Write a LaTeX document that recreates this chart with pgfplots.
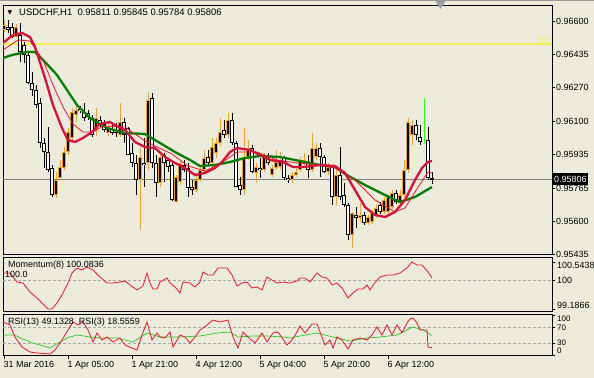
\documentclass[border=0pt]{standalone}
\usepackage{pgfplots}
\pgfplotsset{compat=1.18}
\usepackage{pgfplotstable}
\usepackage{fontspec}
\setmainfont{Liberation Sans}
\newfontfamily\dejavu{DejaVu Sans}
\definecolor{bg}{RGB}{236,235,220}
\definecolor{bullc}{RGB}{245,160,40}
\definecolor{macrim}{RGB}{210,20,60}
\definecolor{mared}{RGB}{230,25,45}
\definecolor{magreen}{RGB}{0,125,0}
\definecolor{rsigreen}{RGB}{40,200,40}
\definecolor{fibyel}{RGB}{245,240,80}
\newcommand{\tf}{\fontsize{9}{10}\selectfont}

\pgfplotstableread{
i o h l c
1 0.96570 0.96605 0.96540 0.96555
2 0.96570 0.96590 0.96515 0.96520
4 0.96530 0.96590 0.96395 0.96445
5 0.96480 0.96495 0.96390 0.96430
6 0.96430 0.96445 0.96285 0.96290
7 0.96290 0.96345 0.96225 0.96255
8 0.96255 0.96280 0.96165 0.96180
9 0.96190 0.96215 0.95965 0.95990
10 0.95990 0.96015 0.95865 0.95945
11 0.95945 0.96070 0.95845 0.95855
12 0.95865 0.95880 0.95720 0.95730
19 0.96160 0.96175 0.96140 0.96150
20 0.96145 0.96190 0.96100 0.96115
21 0.96140 0.96155 0.96105 0.96120
22 0.96115 0.96130 0.96020 0.96030
24 0.96105 0.96125 0.96065 0.96080
25 0.96085 0.96105 0.96045 0.96055
27 0.96060 0.96080 0.96030 0.96040
28 0.96045 0.96090 0.96020 0.96040
30 0.96095 0.96115 0.95990 0.96030
31 0.96065 0.96070 0.95930 0.95930
32 0.95940 0.95990 0.95870 0.95890
33 0.95890 0.95930 0.95730 0.95805
35 0.95890 0.96015 0.95770 0.95880
37 0.96215 0.96240 0.95865 0.95890
38 0.95890 0.95930 0.95720 0.95790
40 0.95930 0.95940 0.95795 0.95890
41 0.95905 0.95915 0.95845 0.95870
42 0.95880 0.95890 0.95700 0.95705
45 0.95880 0.95905 0.95845 0.95855
46 0.95865 0.95890 0.95720 0.95765
47 0.95770 0.95805 0.95730 0.95755
51 0.95920 0.95955 0.95880 0.95890
55 0.96055 0.96105 0.96015 0.96030
57 0.96105 0.96140 0.95980 0.95990
58 0.95990 0.96000 0.95770 0.95770
59 0.95780 0.95820 0.95730 0.95755
62 0.95965 0.95980 0.95840 0.95845
64 0.95865 0.95915 0.95815 0.95855
66 0.95915 0.95940 0.95880 0.95890
70 0.95915 0.95925 0.95805 0.95815
71 0.95815 0.95830 0.95790 0.95805
76 0.95890 0.95930 0.95815 0.95855
79 0.95965 0.95990 0.95820 0.95920
80 0.95920 0.95930 0.95840 0.95845
82 0.95870 0.95880 0.95680 0.95720
84 0.95830 0.95970 0.95705 0.95720
85 0.95730 0.95790 0.95670 0.95680
86 0.95680 0.95690 0.95505 0.95530
88 0.95630 0.95670 0.95565 0.95615
90 0.95630 0.95645 0.95580 0.95590
94 0.95680 0.95695 0.95635 0.95645
98 0.95740 0.95755 0.95685 0.95695
103 0.96080 0.96105 0.96005 0.96030
104 0.96020 0.96080 0.95980 0.95995
106 0.96005 0.96070 0.95805 0.95815
107 0.95811 0.95845 0.95784 0.95806
}\beartab

\pgfplotstableread{
i o h l c
0 0.96555 0.96605 0.96545 0.96580
3 0.96520 0.96585 0.96515 0.96570
13 0.95730 0.95845 0.95715 0.95805
14 0.95815 0.95905 0.95805 0.95870
15 0.95865 0.95970 0.95855 0.95945
16 0.95945 0.96065 0.95930 0.96045
17 0.96015 0.96165 0.95995 0.96145
18 0.96130 0.96190 0.96095 0.96155
23 0.96055 0.96165 0.96025 0.96115
26 0.96040 0.96090 0.96025 0.96070
29 0.96030 0.96190 0.96020 0.96095
34 0.95805 0.95970 0.95555 0.95920
36 0.95890 0.96245 0.95855 0.96205
39 0.95790 0.95930 0.95770 0.95920
43 0.95695 0.95830 0.95690 0.95820
44 0.95795 0.95905 0.95780 0.95890
48 0.95755 0.95825 0.95745 0.95805
49 0.95805 0.95880 0.95795 0.95855
50 0.95855 0.95955 0.95845 0.95915
52 0.95890 0.96015 0.95880 0.95970
53 0.95940 0.96015 0.95915 0.95990
54 0.95990 0.96115 0.95975 0.96045
56 0.96030 0.96140 0.96015 0.96105
60 0.95755 0.96065 0.95730 0.95920
61 0.95920 0.96005 0.95905 0.95955
63 0.95840 0.95890 0.95790 0.95870
65 0.95855 0.95940 0.95845 0.95920
67 0.95830 0.95880 0.95820 0.95865
68 0.95865 0.95955 0.95855 0.95895
69 0.95870 0.95945 0.95855 0.95905
72 0.95805 0.95845 0.95790 0.95830
73 0.95830 0.95870 0.95820 0.95845
74 0.95855 0.95920 0.95845 0.95905
75 0.95890 0.95940 0.95880 0.95905
77 0.95855 0.96040 0.95845 0.95965
78 0.95920 0.95990 0.95905 0.95965
81 0.95845 0.95890 0.95830 0.95870
83 0.95720 0.95855 0.95680 0.95830
87 0.95530 0.95645 0.95465 0.95640
89 0.95615 0.95690 0.95595 0.95630
91 0.95590 0.95630 0.95580 0.95620
92 0.95595 0.95655 0.95585 0.95640
93 0.95630 0.95680 0.95615 0.95665
95 0.95645 0.95720 0.95635 0.95705
96 0.95645 0.95730 0.95635 0.95720
97 0.95670 0.95755 0.95660 0.95740
99 0.95690 0.95755 0.95680 0.95730
100 0.95730 0.95905 0.95720 0.95855
101 0.95855 0.96115 0.95840 0.96095
102 0.96030 0.96105 0.95980 0.96080
}\bulltab

\pgfplotstableread{
i o h l c
105 0.96005 0.96215 0.95990 0.96015
}\greentab

\pgfplotsset{
  panel/.style={scale only axis, width=549bp, xmin=-0.25, xmax=137, anchor=south west,
    axis background/.style={fill=bg}, axis line style={black, line width=0.8bp},
    tick style={black, line width=0.6bp}, tick align=outside, major tick length=3bp,
    ytick pos=right, yticklabel pos=right, xtick=\empty,
    every tick label/.append style={font=\tf, text=black}},
  bar/.style 2 args={draw=none, no markers, forget plot,
    /pgfplots/error bars/y dir=plus, /pgfplots/error bars/y explicit,
    /pgfplots/error bars/error mark=none,
    /pgfplots/error bars/error bar style={draw=#1, line width=#2}},
}

\begin{document}
\begin{tikzpicture}
\useasboundingbox (0,0) rectangle (594bp,378bp);
\fill[bg] (0,0) rectangle (594bp,378bp);
\draw[gray!80, line width=0.8bp] (0,377.4bp) -- (594bp,377.4bp);

% ---------- main price panel ----------
\begin{axis}[panel, at={(3bp,123.5bp)}, height=249.5bp, ymin=0.954325, ymax=0.9668,
  ytick={0.966,0.96435,0.9627,0.961,0.95935,0.95765,0.956,0.95435},
  yticklabels={0.96600,0.96435,0.96270,0.96100,0.95935,0.95765,0.95600,0.95435},
  yticklabel style={anchor=west, inner sep=1bp}]
\addplot[fibyel, line width=1.6bp, forget plot] coordinates {(-0.25,0.96485) (137,0.96485)};
\addplot[gray, line width=0.6bp, forget plot] coordinates {(-0.25,0.95806) (137,0.95806)};
% wicks
\addplot[bar={black}{1bp}] table[x=i, y=l, y error expr={\thisrow{h}-\thisrow{l}}] {\beartab};
\addplot[bar={bullc}{1bp}] table[x=i, y=l, y error expr={\thisrow{h}-\thisrow{l}}] {\bulltab};
\addplot[bar={green!80!lime}{1bp}] table[x=i, y=l, y error expr={\thisrow{h}-\thisrow{l}}] {\greentab};
% bodies
\addplot[bar={black}{3.4bp}] table[x=i, y expr={\thisrow{c}-0.00002}, y error expr={\thisrow{o}-\thisrow{c}+0.00004}] {\beartab};
\addplot[bar={white}{1.6bp}] table[x=i, y expr={\thisrow{c}+0.00003}, y error expr={max(\thisrow{o}-\thisrow{c}-0.00006,0)}] {\beartab};
\addplot[bar={bullc}{3.4bp}] table[x=i, y expr={\thisrow{o}-0.00002}, y error expr={\thisrow{c}-\thisrow{o}+0.00004}] {\bulltab};
\addplot[bar={black}{1.4bp}] table[x=i, y expr={\thisrow{o}+0.00003}, y error expr={max(\thisrow{c}-\thisrow{o}-0.00006,0)}] {\bulltab};
% moving averages
\addplot[magreen, line width=2.3bp] coordinates {(-0.25,0.96415) (2,0.9643) (5.75,0.96445) (7.75,0.96445) (10.25,0.96395) (13.25,0.96330) (15.75,0.96255) (18.25,0.9618) (21.5,0.96115) (25.75,0.96065) (30.25,0.9604) (35.25,0.96035) (39,0.9599) (42.75,0.95945) (46.5,0.95905) (49,0.95875) (52.75,0.9588) (56.5,0.95895) (60.25,0.95915) (64,0.95925) (69,0.9592) (74,0.959) (79,0.9588) (82.75,0.9587) (85.25,0.95835) (90.25,0.9578) (95.25,0.9573) (99,0.95695) (102.75,0.9572) (107,0.9577)};
\addplot[mared, line width=0.8bp] coordinates {(-0.25,0.96455) (3.5,0.96505) (6.5,0.965) (9.75,0.96405) (12.25,0.9628) (14.75,0.9617) (17.25,0.96085) (19.75,0.96045) (22.25,0.96045) (24.75,0.96075) (30.25,0.9607) (35.25,0.96) (37.75,0.95975) (42,0.95935) (46,0.95875) (50.25,0.9585) (54,0.95885) (58.25,0.95945) (63.25,0.95945) (68.25,0.95905) (73.25,0.9589) (79,0.9588) (82.75,0.95865) (87.75,0.95805) (92.75,0.95705) (97.75,0.95645) (100.25,0.95665) (102.75,0.95745) (106,0.95845) (107,0.9584)};
\addplot[macrim, line width=2.3bp] coordinates {(-0.25,0.9649) (2.25,0.9653) (4.5,0.9654) (6.5,0.9652) (7.75,0.9647) (10.25,0.96315) (12.25,0.9618) (14.5,0.96065) (16,0.96005) (17.75,0.95995) (19.75,0.96015) (22,0.96045) (24,0.96085) (26.5,0.96095) (27.75,0.9608) (30.25,0.96055) (32.75,0.95995) (35.25,0.9597) (37.75,0.95965) (40.25,0.9592) (42.75,0.9589) (45.25,0.95865) (47.75,0.9583) (50.25,0.9584) (52.75,0.95865) (54.5,0.95895) (56.5,0.95945) (58.25,0.95965) (61.5,0.95955) (64,0.9593) (66.5,0.95905) (69.75,0.95895) (72.25,0.9587) (74.75,0.9587) (79,0.9588) (82.75,0.95875) (85.25,0.9584) (87.75,0.95755) (90.25,0.9567) (92.75,0.9563) (95.25,0.9562) (97.75,0.95645) (100.25,0.95705) (102.75,0.95805) (104.5,0.95865) (106,0.95895) (107,0.959)};
\node[anchor=south east, text=fibyel, font=\tf, inner sep=1bp] at (axis cs:136.8,0.96485) {0.0};
\end{axis}

% ---------- momentum panel ----------
\begin{axis}[panel, at={(3bp,67bp)}, height=54bp, ymin=99.128, ymax=100.687,
  ytick={100.5438,100,99.1866}, yticklabels={,,}]
\addplot[gray!70, line width=0.6bp, dash pattern=on 3bp off 2bp, forget plot] coordinates {(-0.25,100) (137,100)};
\addplot[mared, line width=0.8bp] coordinates {(-0.25,100.225) (1.5,100.225) (3.25,99.965) (4.75,99.936) (6.5,99.677) (8.25,99.503) (9.5,99.359) (11,99.186) (12,99.186) (13.25,99.359) (14.75,99.648) (16,99.936) (17,100.225) (18.25,100.370) (19.5,100.312) (20.75,100.398) (22.25,100.312) (24,100.110) (25.75,99.936) (27.25,99.936) (29,99.965) (30.25,99.994) (31.5,99.879) (33.25,99.734) (34.75,99.850) (35.75,100.225) (36.5,99.936) (37.25,99.763) (38.25,99.763) (39,99.965) (40.75,100.081) (41.5,99.936) (42.75,99.821) (44,99.648) (44.75,99.965) (46.5,99.936) (47.75,99.821) (49,99.965) (49.75,100.254) (51,100.167) (52.25,100.167) (53.5,100.370) (55.75,100.370) (57,100.167) (58.25,99.850) (59.5,99.936) (60.75,99.965) (62,99.792) (63.25,99.821) (64.5,99.734) (65.75,100.110) (67,100.023) (68.25,99.936) (69.75,99.965) (71.5,99.936) (73.25,99.994) (74,100.081) (75.25,100.081) (76.5,99.965) (78.25,100.225) (79.5,100.110) (80.75,100.081) (82,99.879) (83.25,99.936) (84.5,99.792) (86,99.503) (87.25,99.648) (88.5,99.763) (89.75,99.763) (90.75,99.879) (91.5,99.734) (92.25,99.879) (94,100.110) (95.75,100.167) (97.25,100.167) (99,100.225) (100.75,100.370) (102,100.544) (103.25,100.456) (104.5,100.456) (106,100.254) (107,100.084)};
\end{axis}

% ---------- RSI panel ----------
\begin{axis}[panel, at={(3bp,22.5bp)}, height=41.5bp, ymin=-1.25, ymax=102.5,
  ytick={100,70,30,0}, yticklabels={,,,},
  xtick={0,16,32,48,64,80,96}, xtick pos=bottom,
  xticklabels={31 Mar 2016,1 Apr 05:00,1 Apr 21:00,4 Apr 12:00,5 Apr 04:00,5 Apr 20:00,6 Apr 12:00},
  xticklabel style={anchor=north west, inner sep=0pt, xshift=-0.5bp, yshift=-2.5bp}]
\addplot[gray!70, line width=0.6bp, dash pattern=on 3bp off 2bp, forget plot] coordinates {(-0.25,70) (137,70)};
\addplot[gray!70, line width=0.6bp, dash pattern=on 3bp off 2bp, forget plot] coordinates {(-0.25,30) (137,30)};
\addplot[rsigreen, line width=0.7bp] coordinates {(-0.25,50) (2.75,50) (4,42.5) (7.25,30) (11.5,17.5) (12.75,25) (15.75,42.5) (18.25,50) (21.5,45) (24,42.5) (28.25,42.5) (32.25,32.5) (35.75,55) (39,45) (44,45) (49,47.5) (53.25,55) (56.5,57.5) (58.5,45) (62.25,47.5) (65.75,47.5) (69.75,45) (71.5,42.5) (74,47.5) (78.25,55) (82.25,45) (86.5,35) (90.75,42.5) (94,45) (98.25,50) (100.75,62.5) (102.25,70) (104.75,62.5) (107,49.13)};
\addplot[mared, line width=0.8bp] coordinates {(-0.25,82.5) (1.5,75) (2.75,45) (4.5,20) (6.5,7.5) (8.25,5) (11.5,2.5) (12.75,12.5) (14.5,37.5) (16,62.5) (17.25,82.5) (18.5,75) (19.75,82.5) (21,62.5) (22.25,32.5) (23.25,55) (24.5,37.5) (25.75,45) (27.25,32.5) (29,42.5) (30.25,25) (32,17.5) (33.25,12.5) (34.5,50) (35.75,82.5) (37,37.5) (38.25,55) (39,45) (40.25,42.5) (41.5,57.5) (42.25,20) (44,50) (45.25,45) (46.5,30) (47.75,45) (49,62.5) (50.75,75) (52.25,87.5) (54,82.5) (56,87.5) (57.25,45) (58.5,17.5) (59.75,57.5) (61,45) (62.75,30) (64.5,55) (65.75,32.5) (67.25,55) (68.5,57.5) (70.75,25) (72,37.5) (73.25,57.5) (74,72.5) (75.25,55) (77,77.5) (78.25,77.5) (80.25,25) (81.5,37.5) (82.25,17.5) (83.25,45) (84.5,37.5) (86,15) (87.25,37.5) (89,42.5) (90.75,37.5) (92,50) (93.25,70) (94.5,50) (95.75,75) (97,50) (98.25,75) (99.5,55) (100.75,80) (101.5,90) (102.25,92.5) (103.25,80) (104,62.5) (105.75,62.5) (106,20) (107,18.56)};
\end{axis}

% ---------- texts ----------
\node[anchor=center, font=\dejavu\fontsize{6}{6}\selectfont, inner sep=0pt] at (10bp,365bp) {▼};
\node[anchor=west, font=\fontsize{9.5}{10}\selectfont, inner sep=0pt] at (19bp,365bp) {USDCHF,H1\ \ 0.95811 0.95845 0.95784 0.95806};
\node[anchor=west, font=\tf, inner sep=0pt] at (8bp,113bp) {Momentum(8) 100.0836};
\node[anchor=west, font=\tf, inner sep=0pt] at (5bp,104bp) {100.0};
\node[anchor=west, font=\tf, inner sep=0pt] at (8bp,56bp) {RSI(13) 49.1328\ \ RSI(3) 18.5559};
\node[anchor=west, font=\tf, inner sep=0pt] at (557bp,113bp) {100.5438};
\node[anchor=west, font=\tf, inner sep=0pt] at (557bp,98bp) {100};
\node[anchor=west, font=\tf, inner sep=0pt] at (557bp,73bp) {99.1866};
\node[anchor=west, font=\fontsize{8}{9}\selectfont, inner sep=0pt] at (557bp,58.8bp) {100};
\node[anchor=west, font=\fontsize{8}{9}\selectfont, inner sep=0pt] at (557bp,50.2bp) {70};
\node[anchor=west, font=\fontsize{8}{9}\selectfont, inner sep=0pt] at (557bp,35.6bp) {30};
\node[anchor=west, font=\fontsize{8}{9}\selectfont, inner sep=0pt] at (557bp,27bp) {0};
\node[anchor=west, fill=black, text=white, font=\tf, inner sep=1.5bp, minimum height=12bp] at (552.5bp,199bp) {0.95806};
\fill[gray!75] (435.5bp,377bp) -- (445.5bp,377bp) -- (440.5bp,369bp) -- cycle;
\end{tikzpicture}
\end{document}
